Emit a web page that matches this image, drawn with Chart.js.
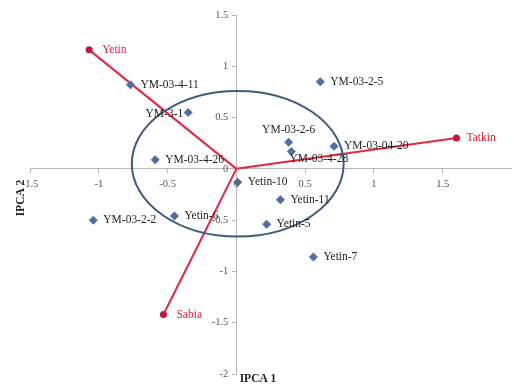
<!DOCTYPE html>
<html>
<head>
<meta charset="utf-8">
<script src="https://cdn.jsdelivr.net/npm/chart.js@4"></script>
<style>
  html, body { margin: 0; padding: 0; background: #fff; overflow: hidden; }
  #wrap { width: 516px; height: 392px; position: relative; }
</style>
</head>
<body>
<div id="wrap"><canvas id="biplot"></canvas></div>
<script>
// Genotype scores on the first two interaction principal components
var genotypes = ["YM-03-4-11", "YM-3-1", "YM-03-2-5", "YM-03-2-6", "YM-03-4-28", "YM-03-04-20",
  "YM-03-4-26", "Yetin-10", "Yetin-11", "Yetin-5", "Yetin-7", "YM-03-2-2", "Yetin-6"];
var genoPc1 = [-0.77, -0.35, 0.61, 0.38, 0.40, 0.71, -0.59, 0.01, 0.32, 0.22, 0.56, -1.04, -0.45];
var genoPc2 = [0.82, 0.55, 0.85, 0.26, 0.17, 0.22, 0.09, -0.13, -0.30, -0.54, -0.86, -0.50, -0.46];

// Environment vectors
var environments = ["Yetin", "Tatkin", "Sabia"];
var envPc1 = [-1.07, 1.60, -0.53];
var envPc2 = [1.16, 0.30, -1.42];

var xTicks = [-1.5, -1, -0.5, 0, 0.5, 1, 1.5];
var yTicks = [1.5, 1, 0.5, 0, -0.5, -1, -1.5, -2];

var serif = "'Liberation Serif', 'Times New Roman', serif";

var genoPoints = genotypes.map(function (g, i) {
  return { x: genoPc1[i], y: genoPc2[i], label: g };
});

var datasets = environments.map(function (e, i) {
  return {
    label: e,
    data: [{ x: 0, y: 0 }, { x: envPc1[i], y: envPc2[i], label: e }],
    showLine: true,
    borderColor: "#e8253f",
    borderWidth: 2,
    pointRadius: [0, 3.5],
    pointBorderWidth: 0,
    pointBackgroundColor: "#c8143c",
    order: 1
  };
});
datasets.push({
  label: "Genotypes",
  data: genoPoints,
  pointStyle: "rectRot",
  pointRadius: 4.5,
  pointBorderWidth: 0,
  pointBackgroundColor: "#4f6ea8",
  showLine: false,
  order: 0
});

// label placement tweaks for crowded points
var labelPlace = {
  "YM-3-1": { align: "right", dx: -5, dy: 2 },
  "YM-03-2-6": { align: "center", dx: 0, dy: -12 },
  "YM-03-4-28": { align: "left", dx: -2, dy: 8 },
  "Yetin": { align: "left", dx: 13, dy: 0 },
  "Sabia": { align: "left", dx: 13, dy: 0 }
};

var ellipsePlugin = {
  id: "ellipse",
  afterDatasetsDraw: function (chart) {
    var xs = chart.scales.x, ys = chart.scales.y, ctx = chart.ctx;
    var cx = xs.getPixelForValue(0.01), cy = ys.getPixelForValue(0.05);
    var rx = xs.getPixelForValue(0.77) - xs.getPixelForValue(0);
    var ry = ys.getPixelForValue(0) - ys.getPixelForValue(0.71);
    ctx.save();
    ctx.beginPath();
    ctx.ellipse(cx, cy, rx, ry, 0, 0, Math.PI * 2);
    ctx.strokeStyle = "#3b5b80";
    ctx.lineWidth = 2;
    ctx.stroke();
    ctx.restore();
  }
};

var labelPlugin = {
  id: "pointLabels",
  afterDatasetsDraw: function (chart) {
    var ctx = chart.ctx;
    ctx.save();
    ctx.font = "11.5px " + serif;
    ctx.textBaseline = "middle";
    chart.data.datasets.forEach(function (ds, di) {
      var meta = chart.getDatasetMeta(di);
      ds.data.forEach(function (p, pi) {
        if (!p.label) return;
        var el = meta.data[pi];
        var place = labelPlace[p.label] || { align: "left", dx: 10, dy: 0 };
        ctx.textAlign = place.align;
        ctx.fillStyle = di < environments.length ? "#e0243c" : "#1e1e1e";
        ctx.fillText(p.label, el.x + place.dx, el.y + place.dy);
      });
    });
    ctx.restore();
  }
};

// tick labels sit beside the crossing axes, Excel style
var tickLabelPlugin = {
  id: "tickLabels",
  afterDatasetsDraw: function (chart) {
    var xs = chart.scales.x, ys = chart.scales.y, ctx = chart.ctx;
    var x0 = xs.getPixelForValue(0), y0 = ys.getPixelForValue(0);
    ctx.save();
    ctx.font = "10.5px " + serif;
    ctx.fillStyle = "#555";
    ctx.textBaseline = "middle";
    ctx.textAlign = "right";
    yTicks.forEach(function (v) {
      ctx.fillText(String(v), x0 - 8, ys.getPixelForValue(v));
    });
    ctx.textAlign = "center";
    xTicks.forEach(function (v) {
      ctx.fillText(String(v), xs.getPixelForValue(v), y0 + 15);
    });
    ctx.restore();
  }
};

var titlePlugin = {
  id: "axisTitles",
  afterDraw: function (chart) {
    var ctx = chart.ctx;
    ctx.save();
    ctx.fillStyle = "#1e1e1e";
    ctx.font = "bold 11.5px " + serif;
    ctx.textAlign = "center";
    ctx.textBaseline = "middle";
    ctx.fillText("IPCA 1", 258, 379);
    ctx.translate(21, 198);
    ctx.rotate(-Math.PI / 2);
    ctx.fillText("IPCA 2", 0, 0);
    ctx.restore();
  }
};

function fixTicks(values) {
  return function (scale) {
    scale.ticks = values.map(function (v) { return { value: v }; });
  };
}

new Chart(document.getElementById("biplot"), {
  type: "scatter",
  data: { datasets: datasets },
  options: {
    responsive: true,
    maintainAspectRatio: false,
    animation: false,
    layout: { padding: { left: 30, right: 0, top: 15, bottom: 18 } },
    plugins: { legend: { display: false }, tooltip: { enabled: false } },
    scales: {
      x: {
        type: "linear",
        min: -1.5,
        max: 2,
        position: { y: 0 },
        afterBuildTicks: fixTicks(xTicks),
        grid: { drawOnChartArea: false, tickLength: 4, color: "#b8b8b8" },
        border: { color: "#b8b8b8" },
        ticks: { display: false }
      },
      y: {
        type: "linear",
        min: -2,
        max: 1.5,
        position: { x: 0 },
        afterBuildTicks: fixTicks(yTicks),
        grid: { drawOnChartArea: false, tickLength: 4, color: "#b8b8b8" },
        border: { color: "#b8b8b8" },
        ticks: { display: false }
      }
    }
  },
  plugins: [ellipsePlugin, labelPlugin, tickLabelPlugin, titlePlugin]
});
</script>
</body>
</html>
